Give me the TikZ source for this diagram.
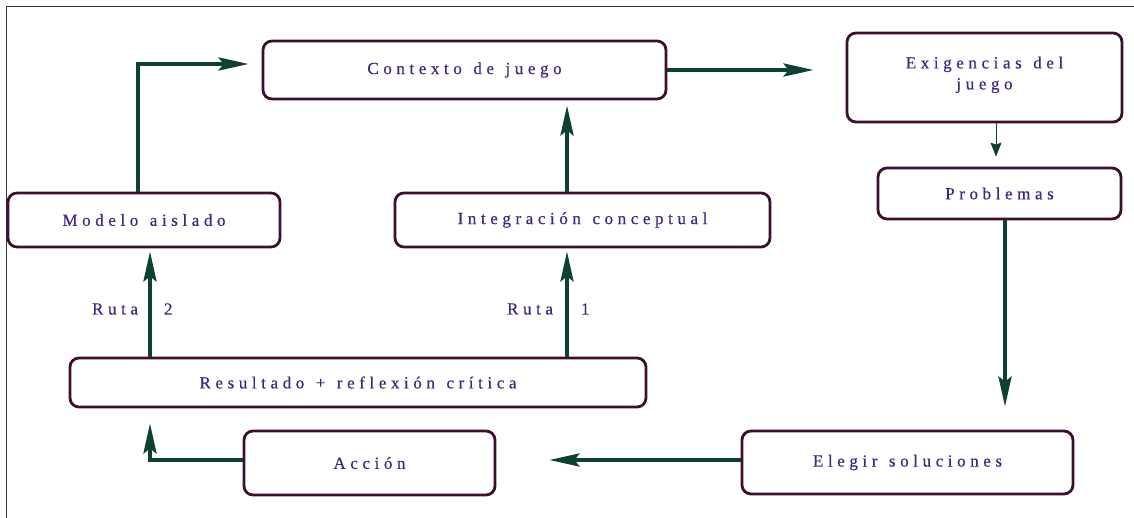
\documentclass[tikz,border=0pt]{standalone}
\usepackage{fontspec}
\setmainfont{Liberation Serif}
\newfontfamily\spfont[LetterSpace=27,WordSpace=1.3,FakeBold=0.4]{Liberation Serif}
\usetikzlibrary{arrows.meta,calc}
\definecolor{boxc}{HTML}{3D0F2E}
\definecolor{arrc}{HTML}{0E4034}
\definecolor{txtc}{HTML}{43247F}
\tikzset{
  box/.style={draw=boxc, line width=2.8pt, rounded corners=9pt, fill=white,
    text=txtc, font=\spfont\fontsize{17}{21}\selectfont, inner sep=0pt, align=center},
  arr/.style={draw=arrc, line width=4pt, -{Stealth[length=30pt,width=13pt,inset=5pt]}},
  thinarr/.style={draw=arrc, line width=1pt, -{Stealth[length=14pt,width=11pt,inset=2pt]}},
  lbl/.style={text=txtc, font=\spfont\fontsize{17}{21}\selectfont, inner sep=0pt}
}
\begin{document}
\begin{tikzpicture}[x=1pt,y=-1pt]
\useasboundingbox (0,0) rectangle (1134,518);
\coordinate (fTL) at (6,7);
\coordinate (fTR) at (1134,7);
\coordinate (fBL) at (6,518);
\draw[line width=1pt, black!80] (fBL) -- (fTL) -- (fTR);

\node[box, minimum width=403pt, minimum height=58pt] (ctx) at (464.5,70) {Contexto de juego};
\node[box, minimum width=275pt, minimum height=89pt] (exi) at (984.5,77.5) {Exigencias del\\juego\\[-12pt]};
\node[box, minimum width=243pt, minimum height=51pt] (prob) at (999.5,193.5) {Problemas};
\node[box, minimum width=331pt, minimum height=63pt] (eleg) at (907.5,462.5) {Elegir soluciones};
\node[box, minimum width=251pt, minimum height=64pt] (acc) at (369.5,463) {Acción};
\node[box, minimum width=576pt, minimum height=49pt] (res) at (358,382.5) {Resultado + reflexión crítica};
\node[box, minimum width=272pt, minimum height=54pt] (mod) at (144,220) {Modelo aislado};
\node[box, minimum width=375pt, minimum height=54pt] (int) at (582.5,220) {Integración conceptual};

% Modelo aislado -> Contexto
\draw[arr, shorten >=13pt] ([xshift=-6pt]mod.north) |- ([yshift=6pt]ctx.west);
% Integracion -> Contexto
\draw[arr, shorten >=5pt] ([xshift=-15.5pt]int.north) -- ([xshift=-15.5pt]int.north |- ctx.south);
% Contexto -> Exigencias
\draw[arr, shorten >=32pt] (ctx.east) -- (ctx.east -| exi.west);
% Exigencias -> Problemas
\draw[thinarr, shorten >=10pt] ([xshift=11.5pt]exi.south) -- ([xshift=11.5pt]exi.south |- prob.north);
% Problemas -> Elegir
\draw[arr, shorten >=23pt] ([xshift=5.5pt]prob.south) -- ([xshift=5.5pt]prob.south |- eleg.north);
% Elegir -> Accion
\draw[arr, shorten >=53pt] ([yshift=2.5pt]eleg.west) -- ([yshift=2.5pt]eleg.west -| acc.east);
% Accion -> Resultado
\draw[arr, shorten >=15pt] ([yshift=3pt]acc.west) -| ([xshift=-208pt]res.south);
% Resultado -> Modelo (Ruta 2)
\draw[arr, shorten >=3pt] ([xshift=-208pt]res.north) -- ([xshift=-208pt]res.north |- mod.south)
  node[lbl, pos=0.44, left=10pt] {Ruta}
  node[lbl, pos=0.44, right=12pt] {2};
% Resultado -> Integracion (Ruta 1)
\draw[arr, shorten >=3pt] ([xshift=209pt]res.north) -- ([xshift=209pt]res.north |- int.south)
  node[lbl, pos=0.44, left=12pt] {Ruta}
  node[lbl, pos=0.44, right=12pt] {1};
\end{tikzpicture}
\end{document}
